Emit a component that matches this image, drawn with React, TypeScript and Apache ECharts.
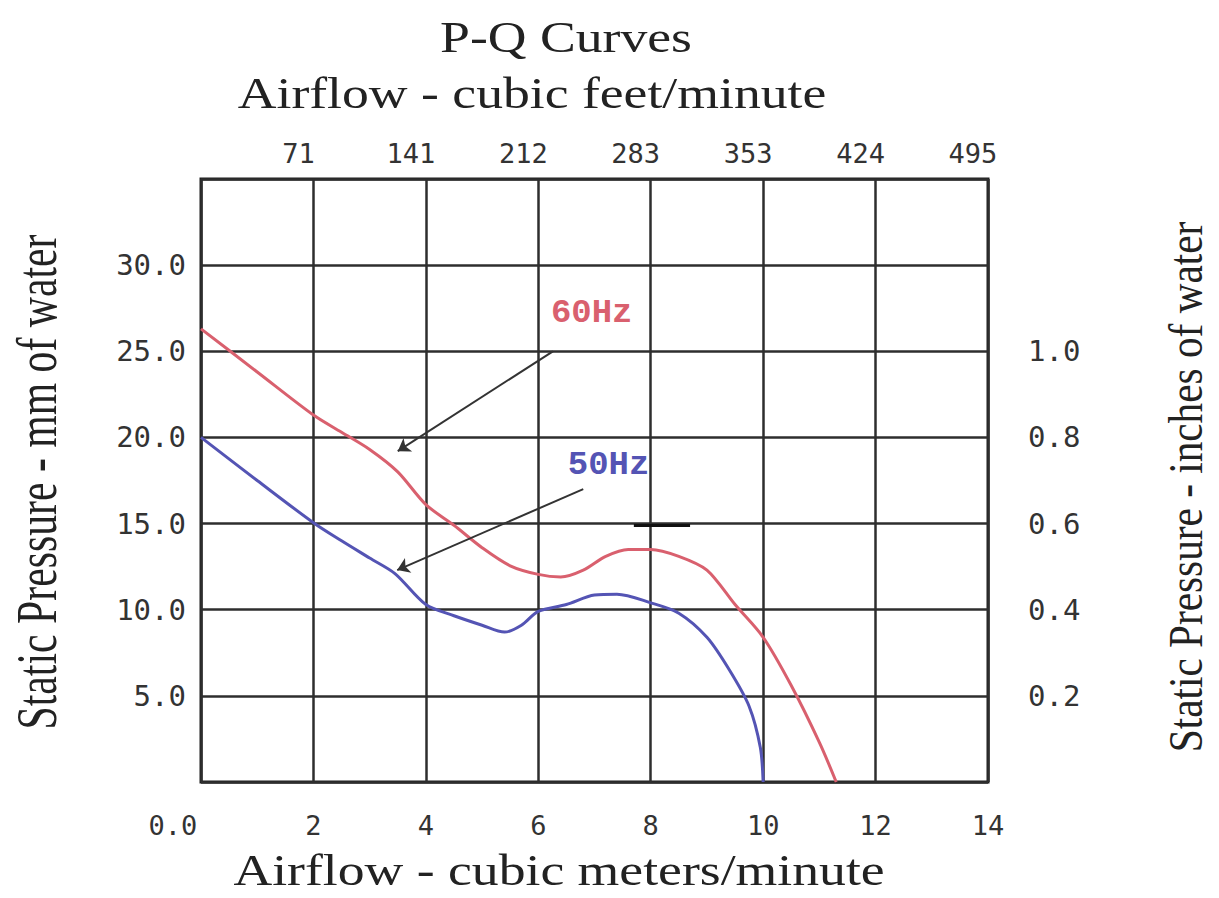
import React, { useEffect, useRef } from "react";
import * as echarts from "echarts";

// Airflow (cubic meters/minute) vs static pressure (mm of water)
const curve60Hz: [number, number][] = [
  [0, 26.3], [1, 23.8], [2, 21.3], [2.5, 20.3], [3, 19.3], [3.5, 18.0],
  [4, 16.1], [4.5, 14.9], [5, 13.6], [5.5, 12.55], [6, 12.05], [6.4, 11.9],
  [6.8, 12.3], [7.2, 13.1], [7.6, 13.5], [8, 13.5], [8.5, 13.1], [9, 12.3],
  [9.5, 10.3], [10, 8.4], [10.5, 5.6], [11, 2.3], [11.3, 0],
];
const curve50Hz: [number, number][] = [
  [0, 20.0], [1, 17.5], [2, 15.05], [2.5, 14.0], [3, 13.0], [3.45, 12.1],
  [4, 10.3], [4.5, 9.65], [5, 9.1], [5.4, 8.7], [5.7, 9.1], [6, 9.9],
  [6.5, 10.3], [7, 10.85], [7.4, 10.9], [8, 10.4], [8.5, 9.8], [9, 8.4],
  [9.4, 6.5], [9.75, 4.4], [9.95, 2.0], [10, 0],
];

const cfmTicks = ["71", "141", "212", "283", "353", "424", "495"];
const inchTicks = [0.2, 0.4, 0.6, 0.8, 1.0];
const mmTicks = [5, 10, 15, 20, 25, 30];

// annotation anchors (data coordinates)
const label60Pos: [number, number] = [6.95, 27.2];
const label50Pos: [number, number] = [7.25, 18.4];
const arrow60: [number, number][] = [[6.26, 25.0], [3.5, 19.2]];
const arrow50: [number, number][] = [[6.8, 17.0], [3.49, 12.3]];
const markSeg: [number, number][] = [[7.7, 14.9], [8.7, 14.9]];

const RED = "#d9606e";
const BLUE = "#5454b4";
const TICK_FONT = "'DejaVu Sans Mono', monospace";
const SERIF = "'Liberation Serif', 'DejaVu Serif', serif";

export default function App() {
  const ref = useRef<HTMLDivElement>(null);
  useEffect(() => {
    if (!ref.current) return;
    const chart = echarts.init(ref.current, null, { renderer: "svg" });
    const tickStyle = { fontFamily: TICK_FONT, fontSize: 29, color: "#333" };
    chart.setOption({
      animation: false,
      backgroundColor: "#ffffff",
      grid: {
        left: 201, top: 179, right: 231, bottom: 116,
        show: true, borderColor: "#1e1e1e", borderWidth: 3, backgroundColor: "#fff",
      },
      graphic: [
        { type: "text", x: 566, y: 37, scaleX: 1.22, style: { text: "P-Q Curves", fontFamily: SERIF, fontSize: 44, fill: "#222", align: "center", verticalAlign: "middle" } },
        { type: "text", x: 532, y: 93, scaleX: 1.22, style: { text: "Airflow - cubic feet/minute", fontFamily: SERIF, fontSize: 44, fill: "#222", align: "center", verticalAlign: "middle" } },
        { type: "text", x: 559, y: 870, scaleX: 1.22, style: { text: "Airflow - cubic meters/minute", fontFamily: SERIF, fontSize: 44, fill: "#222", align: "center", verticalAlign: "middle" } },
        { type: "text", x: 36, y: 482, rotation: Math.PI / 2, scaleX: 0.72, style: { text: "Static Pressure - mm of water", fontFamily: SERIF, fontSize: 58, fill: "#222", align: "center", verticalAlign: "middle" } },
        { type: "text", x: 1186, y: 487, rotation: Math.PI / 2, scaleX: 0.86, style: { text: "Static Pressure - inches of water", fontFamily: SERIF, fontSize: 48, fill: "#222", align: "center", verticalAlign: "middle" } },
      ],
      xAxis: [
        {
          type: "value", min: 0, max: 14, interval: 2, position: "bottom",
          axisLine: { show: false }, axisTick: { show: false },
          splitLine: { show: true, lineStyle: { color: "#2e2e2e", width: 2.5 } },
          axisLabel: {
            ...tickStyle, fontSize: 27, margin: 30,
            formatter: (v: number) => (v === 0 ? "{z|0.0}" : String(v)),
            rich: { z: { fontFamily: TICK_FONT, fontSize: 27, color: "#333", padding: [0, 56, 0, 0] } },
          },
        },
        {
          type: "value", min: 0, max: 14, interval: 2, position: "top",
          axisLine: { show: false }, axisTick: { show: false }, splitLine: { show: false },
          axisLabel: {
            ...tickStyle, fontSize: 27, margin: 12, padding: [0, 30, 0, 0],
            formatter: (v: number) => (v > 0 ? cfmTicks[v / 2 - 1] ?? "" : ""),
          },
        },
      ],
      yAxis: [
        {
          type: "value", min: 0, max: 35, interval: 5, position: "left",
          axisLine: { show: false }, axisTick: { show: false },
          splitLine: { show: true, lineStyle: { color: "#2e2e2e", width: 2.5 } },
          axisLabel: {
            ...tickStyle, margin: 15,
            formatter: (v: number) => (mmTicks.includes(v) ? v.toFixed(1) : ""),
          },
        },
        {
          type: "value", min: 0, max: 1.4, interval: 0.2, position: "right",
          axisLine: { show: false }, axisTick: { show: false }, splitLine: { show: false },
          axisLabel: {
            ...tickStyle, margin: 40,
            formatter: (v: number) =>
              inchTicks.some((t) => Math.abs(t - v) < 1e-6) ? v.toFixed(1) : "",
          },
        },
      ],
      series: [
        {
          name: "60Hz", type: "line", data: curve60Hz, showSymbol: false, smooth: 0.3,
          xAxisIndex: 0, yAxisIndex: 0,
          lineStyle: { color: RED, width: 3 }, itemStyle: { color: RED },
          markPoint: {
            symbol: "circle", symbolSize: 0, silent: true,
            label: { show: true, position: "inside", formatter: "60Hz", color: RED, fontFamily: "'Liberation Mono', monospace", fontWeight: "bold", fontSize: 34 },
            data: [{ coord: label60Pos }],
          },
          markLine: {
            silent: true, symbol: ["none", "arrow"], symbolSize: 12,
            label: { show: false },
            lineStyle: { color: "#333", width: 2, type: "solid" },
            data: [
              [{ coord: arrow60[0] }, { coord: arrow60[1] }],
              [{ coord: arrow50[0] }, { coord: arrow50[1] }],
              [{ coord: markSeg[0], symbol: "none" }, { coord: markSeg[1], symbol: "none", lineStyle: { color: "#111", width: 3, type: "solid" } }],
            ],
          },
        },
        {
          name: "50Hz", type: "line", data: curve50Hz, showSymbol: false, smooth: 0.3,
          xAxisIndex: 0, yAxisIndex: 0,
          lineStyle: { color: BLUE, width: 3 }, itemStyle: { color: BLUE },
          markPoint: {
            symbol: "circle", symbolSize: 0, silent: true,
            label: { show: true, position: "inside", formatter: "50Hz", color: BLUE, fontFamily: "'Liberation Mono', monospace", fontWeight: "bold", fontSize: 34 },
            data: [{ coord: label50Pos }],
          },
        },
      ],
    });
    return () => chart.dispose();
  }, []);
  return (
    <div
      ref={ref}
      style={{ position: "fixed", left: 0, top: 0, width: 1219, height: 898 }}
    />
  );
}
